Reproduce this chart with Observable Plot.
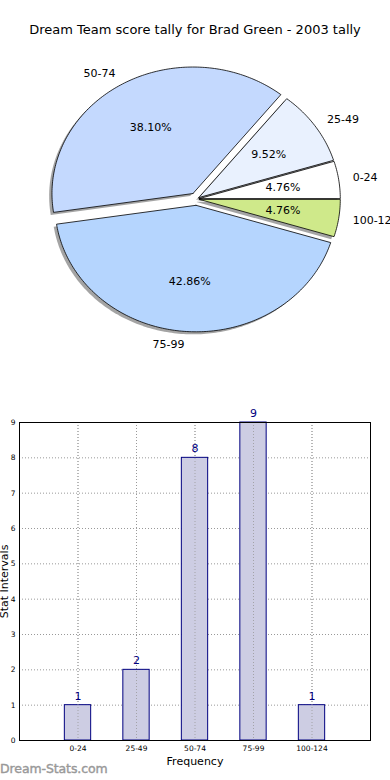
<!DOCTYPE html>
<html><head><meta charset="utf-8">
<script src="https://cdn.jsdelivr.net/npm/d3@7"></script>
<script src="https://cdn.jsdelivr.net/npm/@observablehq/plot@0.6"></script>
<style>
body{margin:0;background:#fff;font-family:"DejaVu Sans",sans-serif;width:390px;height:780px;position:relative;overflow:hidden}
#title{position:absolute;left:0;top:0;width:390px;height:60px;line-height:60px;text-align:center;font-size:13px;color:#000}
#pie{position:absolute;left:0;top:60px}
#bars{position:absolute;left:0;top:390px}
#wm{position:absolute;left:0;top:761px;font-size:12.5px;color:#999;-webkit-text-stroke:0.4px #999;letter-spacing:-0.1px}
svg{overflow:visible}
</style></head><body>
<div id="title">Dream Team score tally for Brad Green - 2003 tally</div>
<div id="pie"></div><div id="bars"></div><div id="wm">Dream-Stats.com</div>
<script>
// ---- data ----
const categories = ["0-24", "25-49", "50-74", "75-99", "100-124"];
const counts = [1, 2, 8, 9, 1];
const explode = [0.02, 0.02, 0.05, 0.05, 0.02];
const yTicks = [0, 1, 2, 3, 4, 5, 6, 7, 8, 9];
// ---- styles ----
const sliceColors = ["#ffffff", "#e9f1fe", "#c4d9fe", "#b5d5fe", "#cfe98a"];
const barFill = "#cdcde3";
const barStroke = "#000080";

// ---- pie geometry (unit circle in data space; scales stretch it) ----
const total = d3.sum(counts);
let acc = 0;
const slices = counts.map((v, i) => {
  const a0 = acc / total * 2 * Math.PI;
  acc += v;
  const a1 = acc / total * 2 * Math.PI;
  const mid = (a0 + a1) / 2;
  const ox = explode[i] * Math.cos(mid), oy = explode[i] * Math.sin(mid);
  return {i, cat: categories[i], v, a0, a1, mid, ox, oy, pct: (v / total * 100).toFixed(2) + "%"};
});
function slicePts(s) {
  const pts = [{x: s.ox, y: s.oy}];
  const n = Math.max(4, Math.ceil((s.a1 - s.a0) / (Math.PI / 180)));
  for (let j = 0; j <= n; j++) {
    const t = s.a0 + (s.a1 - s.a0) * j / n;
    pts.push({x: s.ox + Math.cos(t), y: s.oy + Math.sin(t)});
  }
  pts.push({x: s.ox, y: s.oy});
  return pts;
}
const labelPts = slices.map(s => ({
  text: s.cat,
  x: s.ox + 1.1 * Math.cos(s.mid), y: s.oy + 1.1 * Math.sin(s.mid),
  left: Math.cos(s.mid) < 0
}));
const pctPts = slices.map(s => ({
  text: s.pct,
  x: s.ox + 0.6 * Math.cos(s.mid), y: s.oy + 0.6 * Math.sin(s.mid)
}));

const pieMarks = [];
slices.forEach(s => {
  pieMarks.push(Plot.line(slicePts(s), {x: d => d.x - 0.02, y: d => d.y - 0.02, fill: "#4a4a4a", fillOpacity: 0.5, stroke: "none"}));
});
slices.forEach(s => {
  pieMarks.push(Plot.line(slicePts(s), {x: "x", y: "y", fill: sliceColors[s.i], stroke: "#000", strokeWidth: 0.8, strokeLinejoin: "miter"}));
});
pieMarks.push(Plot.text(labelPts.filter(d => d.left), {x: "x", y: "y", text: "text", textAnchor: "end", fontSize: 11, fill: "#000"}));
pieMarks.push(Plot.text(labelPts.filter(d => !d.left), {x: "x", y: "y", text: "text", textAnchor: "start", fontSize: 11, fill: "#000"}));
pieMarks.push(Plot.text(pctPts, {x: "x", y: "y", text: "text", fontSize: 11, fill: "#000"}));

const pie = Plot.plot({
  width: 390, height: 330,
  margin: 0,
  x: {domain: [-1, 1], range: [55, 337], axis: null},
  y: {domain: [-1, 1], range: [265, 12], axis: null},
  style: {fontFamily: "DejaVu Sans", background: "transparent", overflow: "visible"},
  marks: pieMarks
});
document.getElementById("pie").append(pie);

// ---- bar chart ----
const bars = categories.map((c, i) => ({i, cat: c, n: counts[i]}));
const idx = categories.map((c, i) => i);
const bar = Plot.plot({
  width: 390, height: 390,
  marginLeft: 19, marginRight: 20, marginTop: 32, marginBottom: 40,
  x: {domain: [-1, 5], ticks: idx, tickFormat: i => categories[i], tickSize: 0, tickPadding: 5, label: null},
  y: {domain: [0, 9], ticks: yTicks, tickSize: 0, tickPadding: 4, label: null},
  style: {fontFamily: "DejaVu Sans", fontSize: "7.5px", background: "transparent", color: "#000"},
  marks: [
    Plot.gridY(yTicks, {stroke: "#999", strokeOpacity: 1, strokeDasharray: "1,2"}),
    Plot.gridX(idx, {stroke: "#999", strokeOpacity: 1, strokeDasharray: "1,2"}),
    Plot.rectY(bars, {x1: d => d.i - 0.225, x2: d => d.i + 0.225, y1: 0, y2: "n", fill: barFill, stroke: barStroke, strokeWidth: 1}),
    Plot.gridX(idx, {stroke: "#999", strokeOpacity: 0.8, strokeDasharray: "1,2"}),
    Plot.text(bars, {x: "i", y: "n", text: d => String(d.n), dy: -9, fill: barStroke, fontSize: 11}),
    Plot.frame({stroke: "#000", strokeWidth: 1}),
    Plot.text(["Frequency"], {frameAnchor: "bottom", text: d => d, lineAnchor: "middle", dy: 21, fontSize: 11, fill: "#000"}),
    Plot.text(["Stat Intervals"], {frameAnchor: "left", text: d => d, textAnchor: "middle", lineAnchor: "middle", dx: -15, rotate: -90, fontSize: 11, fill: "#000"})
  ]
});
document.getElementById("bars").append(bar);
</script>
</body></html>
